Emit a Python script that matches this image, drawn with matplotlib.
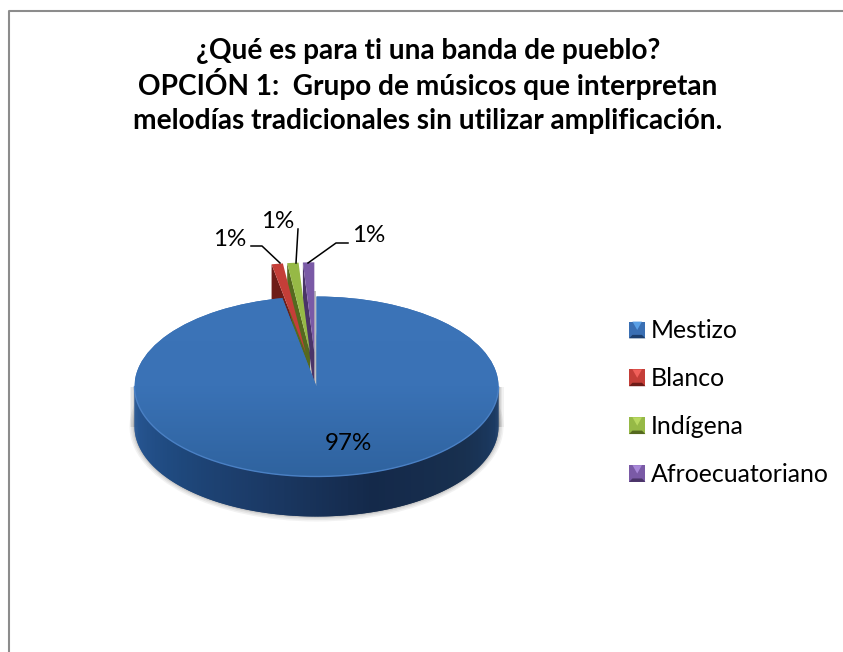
import numpy as np
import matplotlib
matplotlib.use("Agg")
import matplotlib.pyplot as plt
from matplotlib.legend_handler import HandlerBase
from matplotlib.patches import Ellipse, Patch, Polygon
from matplotlib.colors import LinearSegmentedColormap
from matplotlib.lines import Line2D

titulo = ["¿Qué es para ti una banda de pueblo?",
          "OPCIÓN 1:  Grupo de músicos que interpretan",
          "melodías tradicionales sin utilizar amplificación."]
categorias = ["Mestizo", "Blanco", "Indígena", "Afroecuatoriano"]
valores = [97, 1, 1, 1]
separacion = [0, 0.38, 0.38, 0.38]
colores = ["#3a6fb3", "#c43e38", "#96b946", "#7a5aa6"]
oscuros = ["#1c3f6e", "#6e1c18", "#55691f", "#4a3468"]
claros = ["#5aa0e6", "#f0605a", "#b8d860", "#a888d8"]

plt.rcParams['font.family'] = ['Lato', 'DejaVu Sans']

W, H = 843, 652
CX, CY, RX, RY = 316.5, 386.5, 182.0, 90.0
PROF = 40 / RY

def px(x, y):
    return (x - CX) / RX, (CY - y) / RY

class Bisel(HandlerBase):
    # cuadrito con relieve como en la leyenda de Excel
    def create_artists(self, legend, handle, x0, y0, w, h, fontsize, trans):
        i = categorias.index(handle.get_label())
        s = 2.5
        base = Polygon([(x0, y0), (x0 + w, y0), (x0 + w, y0 + h), (x0, y0 + h)], fc=colores[i], ec='none')
        sup = Polygon([(x0 + s, y0 + h), (x0 + w - s, y0 + h), (x0 + w / 2, y0 + h / 2)], fc=claros[i], ec='none')
        inf = Polygon([(x0, y0), (x0 + w, y0), (x0 + w - s, y0 + s), (x0 + s, y0 + s)], fc=oscuros[i], ec='none')
        for p in (base, sup, inf):
            p.set_transform(trans)
        return [base, sup, inf]

fig = plt.figure(figsize=(W / 100, H / 100), dpi=100)
ax = fig.add_axes([0, 0, 1, 1])

wedges, _ = ax.pie(valores, explode=separacion, colors=colores, startangle=90,
                   counterclock=False, radius=1, center=(0, 0))
ax.set_aspect('auto')
ax.axis('off')

# sombra suave de la torta
for k, a in zip([5, 3.5, 2, 1], [0.10, 0.12, 0.15, 0.2]):
    ax.add_patch(Ellipse((0, -PROF), 2 + 2 * k / RX, 2 + 2 * k / RY, fc='#808080', ec='none', alpha=a, zorder=1))
    ax.fill_between(np.array([-1 - k / RX, 1 + k / RX]), -PROF, 0, color='#808080', alpha=a, lw=0, zorder=1)

# pared frontal de la porcion grande con degradado
cm_pared = LinearSegmentedColormap.from_list("pared", ["#2a5a98", "#1f4a80", "#1b3a66", "#14294a", "#18304f", "#1d3f6c"])
ang = np.linspace(np.pi, 2 * np.pi, 181)
for j in range(len(ang) - 1):
    # cada tira pisa la siguiente para que no se vean las uniones
    xs = np.cos(ang[j:j + 3])
    ys = np.sin(ang[j:j + 3])
    ax.fill(np.r_[xs, xs[::-1]], np.r_[ys, ys[::-1] - PROF], color=cm_pared(j / 179), lw=0, zorder=2)

# sombra gris en la ranura
ax.add_patch(Polygon([px(311, 291), px(316, 291), px(316, 375), px(314, 362)], fc='#bdbdbd', ec='none', zorder=2))

# paredes de las porciones separadas
for i in range(1, len(valores)):
    w = wedges[i]
    th = np.deg2rad(w.theta2)
    cx, cy = w.center
    ox, oy = cx + np.cos(th), cy + np.sin(th)
    ax.add_patch(Polygon([(ox, oy), (cx, cy), (cx, cy - PROF), (ox, oy - PROF)], fc=oscuros[i], ec='none', zorder=3))
    w.set_zorder(4)

# cara superior grande con degradado
w0 = wedges[0]
w0.set_zorder(5)
cm_cara = LinearSegmentedColormap.from_list("cara", ["#2f639f", "#3a72b6", "#3c74b8"])
im = ax.imshow(np.linspace(0, 1, 200).reshape(-1, 1), cmap=cm_cara, extent=(-1, 1, -1, 1),
               origin='lower', aspect='auto', zorder=6)
im.set_clip_path(w0)
ax.set_aspect('auto')
ax.set_xlim(px(0, 0)[0], px(W, 0)[0])
ax.set_ylim(px(0, H)[1], px(0, 0)[1])
ax.plot(np.cos(ang), np.sin(ang), color='#4a80c4', lw=1, zorder=7)

# etiquetas de porcentaje
ax.text(*px(348, 444), f"{valores[0]}%", ha='center', va='center', fontsize=17.4, color='black', zorder=9)
etq = [(230, 240, [(251, 246), (262, 246), (280, 263)]),
       (278, 222, [(298, 229), (296, 263)]),
       (369, 236, [(348, 243), (336, 243), (308, 263)])]
for v, (x, y, linea) in zip(valores[1:], etq):
    ax.text(*px(x, y), f"{v}%", ha='center', va='center', fontsize=17.4, color='black', zorder=9)
    pts = np.array([px(a, b) for a, b in linea])
    ax.plot(pts[:, 0], pts[:, 1], color='black', lw=1.1, zorder=8)

handles = [Patch(label=c) for c in categorias]
ax.legend(handles=handles, labels=categorias, handler_map={Patch: Bisel()},
          loc='upper left', bbox_to_anchor=(629 / W, 1 - 319 / H), frameon=False,
          fontsize=17.9, labelspacing=1.0, handlelength=0.66, handleheight=0.66,
          handletextpad=0.22, borderpad=0, borderaxespad=0, labelcolor='black')

# cada linea del titulo va aparte para fijar su altura
for linea, y in zip(titulo, [59, 95, 129]):
    fig.text(428 / W, 1 - y / H, linea, ha='center', va='baseline', fontsize=20.2,
             fontweight='bold', color='black')

# borde del area del grafico
fig.add_artist(Line2D([9 / W, 9 / W, 1], [0, 1 - 11 / H, 1 - 11 / H], transform=fig.transFigure,
                      color='#8c8c8c', lw=1.5))

fig.savefig("out.png", dpi=100)
